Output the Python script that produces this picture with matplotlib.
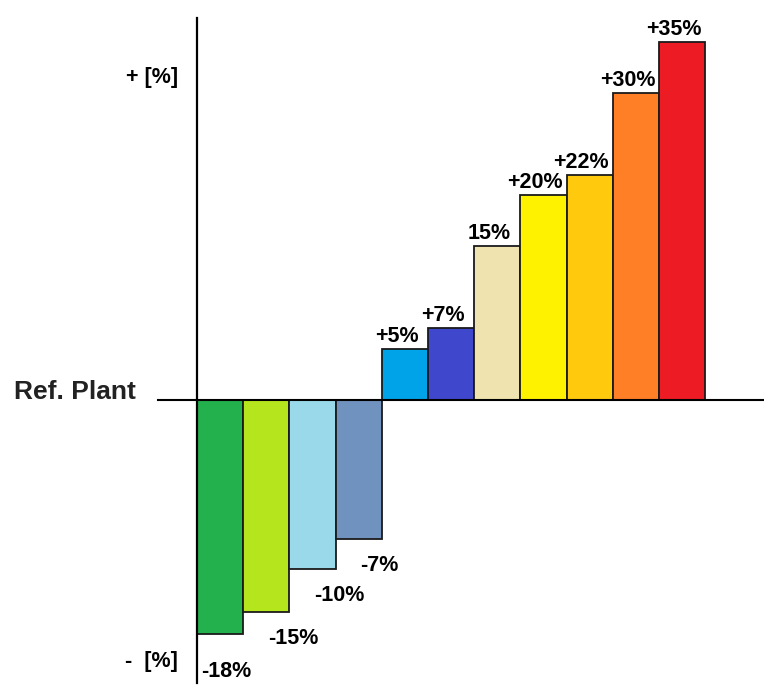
import numpy as np
import matplotlib
matplotlib.use("Agg")
import matplotlib.pyplot as plt

# change vs. reference plant, one bar per variant
CHANGES = [-18, -15, -10, -7, 5, 7, 15, 20, 22, 30, 35]
LABELS = ["-18%", "-15%", "-10%", "-7%", "+5%", "+7%", "15%",
          "+20%", "+22%", "+30%", "+35%"]
COLORS = ["#22b14c", "#b5e61d", "#99d9ea", "#7092be", "#00a2e8", "#3f48cc",
          "#efe4b0", "#fff200", "#ffc90e", "#ff7f27", "#ed1c24"]

FONT = "Liberation Sans"
# losses side is drawn compressed (power scale below zero)
NEG_C, NEG_P = 4.666, 0.55


def fwd(y):
    y = np.asarray(y, dtype=float)
    return np.where(y >= 0, y, -NEG_C * np.abs(np.minimum(y, 0)) ** NEG_P)


def inv(t):
    t = np.asarray(t, dtype=float)
    return np.where(t >= 0, t, -(np.abs(np.minimum(t, 0)) / NEG_C) ** (1 / NEG_P))


W, H = 764, 687
fig = plt.figure(figsize=(W / 100, H / 100), dpi=100)
ax = fig.add_axes([197 / W, 1 - 683 / H, (W - 197) / W, (683 - 18) / H])
ax.set_yscale("function", functions=(fwd, inv))

x = np.arange(len(CHANGES))
bars = ax.bar(x, CHANGES, width=1.0, align="edge", color=COLORS,
              edgecolor="#1a1a1a", linewidth=1.3, zorder=2)

xmax = (W - 197) / 46.2
ax.set_xlim(0, xmax)
ax.set_ylim(-25.4, 37.3)

for s in ["top", "right", "bottom"]:
    ax.spines[s].set_visible(False)
ax.spines["left"].set_linewidth(1.6)
ax.spines["left"].set_zorder(3)
ax.set_xticks([])
ax.set_yticks([])
ax.minorticks_off()

# baseline = reference plant, runs past the axis to the left
ax.plot([-(197 - 158) / 46.2, xmax], [0, 0], color="black", lw=1.5,
        clip_on=False, zorder=3)

for i, (v, lab) in enumerate(zip(CHANGES, LABELS)):
    if v > 0:
        ax.annotate(lab, xy=(i + 0.5, v), xytext=(-6, 5),
                    textcoords="offset points", ha="center", va="baseline",
                    fontsize=15.5, fontweight="bold", family=FONT)
    else:
        dx = -14 if i == 0 else 1
        dy = -27 if i == 0 else -19
        ax.annotate(lab, xy=(i + 0.5, v), xytext=(dx, dy),
                    textcoords="offset points", ha="left", va="center",
                    fontsize=15.5, fontweight="bold", family=FONT)

fig.text(178 / W, 1 - 77 / H, "+ [%]", ha="right", va="center",
         fontsize=15.5, fontweight="bold", family=FONT)
fig.text(178 / W, 1 - 662 / H, "-  [%]", ha="right", va="center",
         fontsize=15.5, fontweight="bold", family=FONT)
fig.text(14 / W, 1 - 392 / H, "Ref. Plant", ha="left", va="center",
         fontsize=19, fontweight="bold", family=FONT, color="#222222")

fig.savefig("out.png", dpi=100)
